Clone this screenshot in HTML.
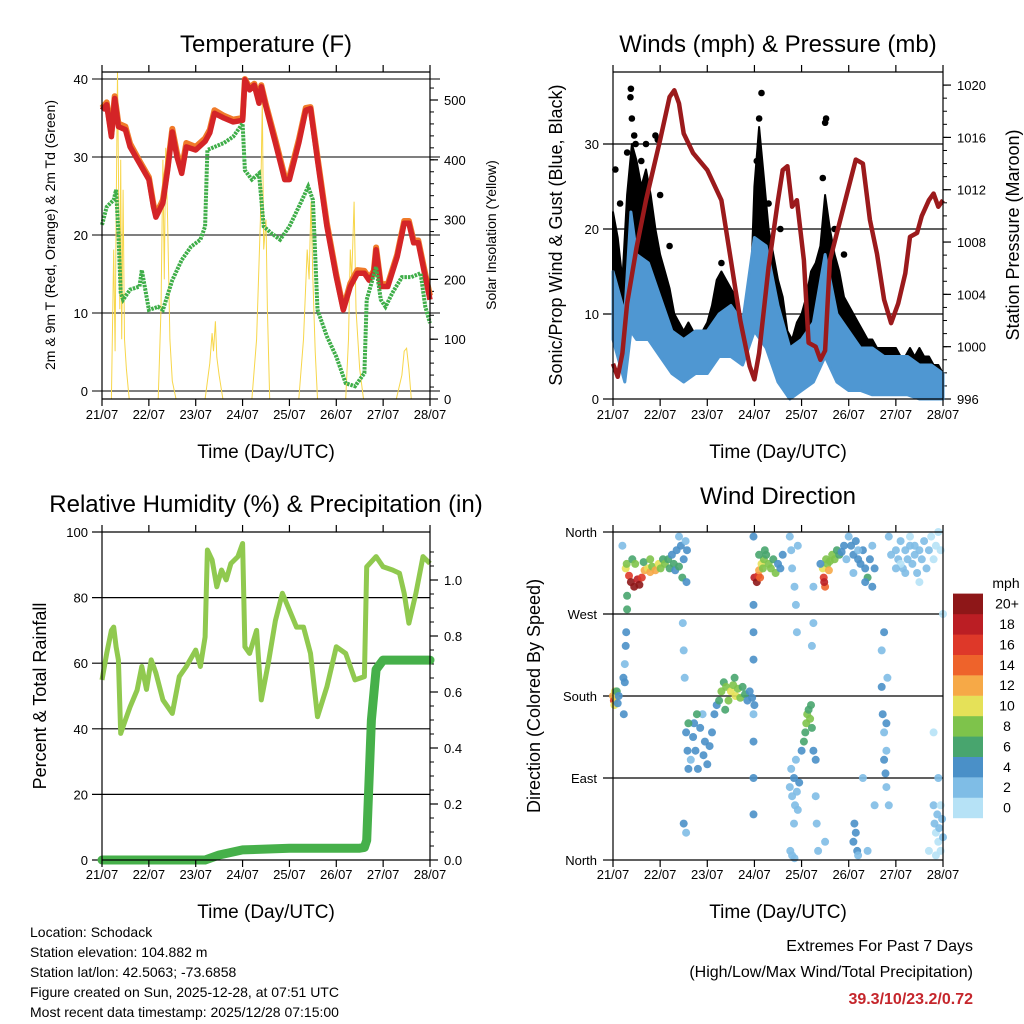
<!DOCTYPE html>
<html><head><meta charset="utf-8"><style>
body{margin:0;background:#fff;}
svg{display:block;font-family:"Liberation Sans",sans-serif;}
</style></head><body>
<svg id="chart" width="1024" height="1024" viewBox="0 0 1024 1024" xmlns="http://www.w3.org/2000/svg"></svg>
<script>
// ---------- DATA ----------
const dayLabels = ["21/07","22/07","23/07","24/07","25/07","26/07","27/07","28/07"];
// Temperature panel
const tempT = [0,0.1,0.2,0.27,0.35,0.5,0.6,0.8,1.0,1.1,1.15,1.3,1.4,1.5,1.6,1.7,1.8,2.0,2.2,2.3,2.4,2.6,2.8,3.0,3.05,3.15,3.25,3.35,3.4,3.5,3.7,3.9,4.0,4.2,4.35,4.45,4.6,4.8,5.0,5.15,5.3,5.45,5.6,5.7,5.8,5.85,5.95,6.1,6.3,6.45,6.55,6.65,6.75,6.9,7.0];
const temp2m = [36.0,36.7,32.6,37.5,33.9,33.5,31.3,29.2,27.1,23.6,22.3,24.1,28.3,33.2,30.0,27.9,31.3,30.9,32.0,33.1,35.6,35.0,34.5,34.7,39.9,38.6,39.2,36.9,39.0,36.4,31.8,27.1,27.1,31.8,36.0,36.2,29.6,21.1,14.6,10.4,13.4,15.1,15.1,14.2,15.1,18.1,13.4,13.4,17.2,21.5,21.5,19.0,19.0,14.6,11.7];
const temp9m = [36.3,37.0,33.0,37.8,34.3,33.9,31.7,29.5,27.4,23.9,22.6,24.5,28.7,33.6,30.5,28.4,31.8,31.3,32.4,33.5,36.0,35.3,34.8,35.0,40.0,38.9,39.4,37.2,39.2,36.7,32.2,27.5,27.5,32.2,36.3,36.4,30.0,21.5,14.9,10.6,13.8,15.5,15.4,14.5,15.4,18.4,13.7,13.7,17.5,21.8,21.8,19.3,19.3,15.0,12.2];
const dewT = [0,0.1,0.25,0.3,0.35,0.4,0.45,0.6,0.8,0.85,1.0,1.2,1.3,1.5,1.7,1.9,2.1,2.2,2.25,2.4,2.6,2.8,3.0,3.05,3.2,3.35,3.45,3.6,3.8,4.0,4.2,4.4,4.5,4.6,4.8,5.0,5.2,5.4,5.6,5.65,5.85,5.95,6.05,6.2,6.4,6.6,6.8,6.9,7.0];
const dew = [21.3,23.6,24.5,25.8,20.3,12.6,11.7,13.0,13.4,15.5,10.4,10.8,10.4,14.2,16.8,18.5,19.4,21.1,30.9,31.3,31.8,32.6,34.3,28.3,27.1,27.9,21.1,20.3,19.4,21.1,23.6,26.2,24.5,10.4,7.0,4.4,1.0,0.6,2.3,11.7,15.9,11.7,10.8,12.6,14.6,14.6,15.1,10.8,8.7];
const solT = [0,0.2,0.25,0.28,0.3,0.33,0.36,0.38,0.4,0.42,0.45,0.48,0.52,0.58,1.2,1.26,1.3,1.33,1.36,1.4,1.45,1.5,1.58,2.2,2.3,2.35,2.38,2.42,2.45,2.5,2.58,3.2,3.3,3.38,3.42,3.45,3.5,3.53,3.58,4.2,4.3,4.38,4.42,4.46,4.5,4.55,4.6,5.2,5.26,5.3,5.33,5.38,5.42,5.5,5.58,6.28,6.4,6.45,6.5,6.55,6.6,7.0];
const solV = [0,0,250,80,300,547,300,150,400,100,350,100,50,0,0,150,400,200,420,300,100,30,0,0,60,110,80,130,70,40,0,0,100,300,500,250,300,150,0,0,100,250,200,330,200,80,0,0,100,250,200,330,150,50,0,0,40,80,85,50,0,0];
const tempTicks = [0,10,20,30,40];
const solTicks = [0,100,200,300,400,500];
// Winds panel
const presT = [0,0.1,0.2,0.3,0.5,0.7,1.0,1.2,1.3,1.4,1.5,1.7,2.0,2.3,2.5,2.7,2.9,3.0,3.1,3.3,3.5,3.6,3.7,3.8,3.9,4.05,4.15,4.3,4.4,4.5,4.6,4.8,5.0,5.15,5.3,5.45,5.6,5.75,5.9,6.05,6.2,6.3,6.45,6.55,6.7,6.8,6.9,7.0];
const pres = [998.7,997.7,999.5,1003.3,1007.6,1011.2,1015.8,1019.1,1019.6,1018.6,1016.3,1014.8,1013.5,1011.2,1006.6,1002.0,998.5,997.5,999.5,1006.1,1011.2,1013.5,1013.8,1010.7,1011.2,1006.6,1000.3,1000.0,999.0,999.7,1006.6,1009.4,1012.2,1014.3,1014.0,1009.7,1007.1,1003.6,1001.8,1003.3,1005.6,1008.4,1008.7,1010.0,1011.2,1011.7,1010.7,1011.2];
const gustT = [0,0.1,0.2,0.3,0.4,0.5,0.6,0.7,0.8,0.9,1.0,1.1,1.2,1.3,1.4,1.5,1.6,1.7,1.8,1.9,2.0,2.1,2.2,2.3,2.4,2.5,2.6,2.7,2.8,2.9,3.0,3.1,3.2,3.3,3.4,3.5,3.6,3.7,3.8,3.9,4.0,4.1,4.2,4.3,4.4,4.5,4.6,4.7,4.8,4.9,5.0,5.1,5.2,5.3,5.4,5.5,5.6,5.7,5.8,5.9,6.0,6.1,6.2,6.3,6.4,6.5,6.6,6.7,6.8,6.9,7.0];
const gustHi = [22,19,14,24,30,28,25,27,24,20,17,15,13,10,9,8,9,8,7,8,9,11,14,15,14,13,12,10,8,9,25,32,26,20,17,14,12,8,7,9,10,12,15,16,18,24,20,17,15,12,11,10,9,8,7,7,6,6,6,6,6,5,5,6,5,6,5,5,4,4,3];
const gustPeakT = [0.37,0.38,0.4,0.45,0.48,0.45,0.9,0.95,1.0,3.05,3.1,3.15,4.45,4.5,4.52,0.05,0.3,0.7,0.15,0.6,1.2,2.3,3.3,3.55,4.7,4.9];
const gustPeakV = [35.5,36.5,33,31,30,27,31,30.5,24,28,33,36,26,32.5,33,27,29,30,23,28,18,16,23,20,20,17];
const windT = [0,0.25,0.38,0.5,0.75,1.0,1.25,1.5,1.75,2.0,2.25,2.5,2.75,3.0,3.25,3.5,3.75,4.0,4.25,4.5,4.75,5.0,5.25,5.5,5.75,6.0,6.25,6.5,6.75,7.0];
const windHi = [15,10,22,17,16,12,8,7,8,8,10,11,9,19,18,11,6,7,9,17,10,8,6,6,5,5,5,4,4,3];
const windLo = [7,2,8,7,7,5,3,2,3,3,5,5,4,8,6,2,0,1,2,5,2,1,1,0.5,0.5,0.5,0.5,0,0,0];
const windTicks = [0,10,20,30];
const presTicks = [996,1000,1004,1008,1012,1016,1020];
// RH / precip panel
const rhT = [0,0.1,0.2,0.25,0.3,0.35,0.4,0.5,0.6,0.75,0.85,0.95,1.05,1.15,1.3,1.5,1.65,1.8,2.0,2.1,2.2,2.25,2.35,2.45,2.55,2.65,2.75,2.9,3.0,3.05,3.15,3.3,3.4,3.55,3.7,3.85,4.0,4.15,4.3,4.45,4.6,4.8,5.0,5.2,5.4,5.6,5.65,5.85,6.0,6.2,6.35,6.45,6.55,6.7,6.85,7.0];
const rh = [54.9,63,70,71,65,61,38.6,42.7,46.7,51.8,59,52,61,57,48.8,44.7,55.9,59,64,59,68,94.5,91.5,83.3,88.4,85.4,90.4,92.5,96.5,65,63,70,48.8,60,73,81.3,76.2,71,71,63,43.7,52.8,65,63,54.9,55.9,89.4,92.5,89.4,88.4,87.4,81.3,72.2,81.3,92.5,90.4];
const rainT = [0,2.2,2.5,3.0,4.0,5.5,5.6,5.65,5.75,5.85,6.0,7.0];
const rain = [0,0,0.018,0.036,0.042,0.042,0.045,0.07,0.5,0.68,0.714,0.714];
const rhTicks = [0,20,40,60,80,100];
const rainTicks = [0,0.2,0.4,0.6,0.8,1.0];
// Wind direction panel
const dirT = [0.27,0.29,0.34,0.38,0.45,0.52,0.56,0.61,0.67,0.74,0.79,0.83,0.9,0.97,1.01,0.41,0.47,0.65,0.79,1.06,
1.1,1.17,1.2,1.25,1.29,1.32,1.35,1.4,1.44,1.47,1.5,1.54,1.57,1.56,0.2,1.4,
0.0,0.02,0.04,0.06,0.03,0.08,0.1,0.12,
0.23,0.25,0.25,0.27,0.28,0.3,0.3,0.22,
1.55,1.58,1.6,1.65,1.7,1.72,1.75,1.8,1.85,1.9,1.92,1.95,2.0,2.05,2.1,2.15,2.2,1.5,1.52,1.5,1.55,1.48,1.6,1.78,
2.25,2.3,2.35,2.4,2.45,2.5,2.55,2.6,2.65,2.7,2.75,2.8,2.85,2.9,2.95,3.0,2.38,2.58,
2.98,2.98,2.98,2.98,2.98,2.98,2.98,2.98,
3.0,3.05,3.08,3.1,3.12,3.15,3.18,3.2,3.25,3.3,3.35,3.4,3.45,3.5,3.55,3.6,3.1,3.22,
3.75,3.78,3.8,3.85,3.88,3.9,3.76,3.8,3.85,3.92,
3.75,3.8,3.84,3.86,3.9,3.92,3.84,3.78,3.88,3.95,
4.0,4.05,4.08,4.1,4.12,4.15,4.18,4.2,4.22,4.25,4.3,4.3,4.32,4.35,4.25,4.22,4.25,
4.45,4.47,4.5,4.48,4.52,4.55,4.6,4.65,4.7,4.75,4.8,4.85,4.4,4.9,4.95,4.58,
5.0,5.05,5.1,5.15,5.2,5.25,5.3,5.35,5.4,5.45,5.5,5.55,5.5,5.35,5.1,5.2,
5.7,5.72,5.75,5.75,5.78,5.8,5.8,5.7,5.75,5.8,5.85,5.82,
5.1,5.12,5.15,5.18,4.5,5.2,5.3,5.4,5.55,
6.0,6.05,6.1,6.15,6.2,6.25,6.3,6.35,6.4,6.45,6.5,6.55,6.6,6.65,6.7,6.75,6.8,6.85,6.9,6.95,6.1,6.3,6.5,6.2,6.4,6.0,5.9,5.85,
6.8,6.82,6.85,6.88,6.9,6.92,6.95,6.98,7.0,6.85,6.95,6.7,6.9,6.8,7.0];
const dirD = [320,325,312,305,300,308,302,310,318,320,316,322,318,325,320,330,325,327,330,330,
325,330,320,335,325,318,340,322,345,310,330,350,340,305,345,355,
180,175,185,178,170,185,172,180,
160,195,215,235,250,275,290,200,
140,120,100,110,135,150,120,100,145,160,115,130,105,125,140,160,170,230,200,40,30,260,150,160,
175,185,195,190,175,185,192,180,188,178,190,182,175,185,178,170,165,200,
355,280,250,220,130,90,50,160,
310,305,312,318,310,325,320,330,335,325,320,330,315,325,320,335,335,340,
355,340,320,300,280,250,10,5,2,345,
80,70,90,60,75,55,40,100,110,85,
120,130,140,150,160,165,155,170,145,120,110,70,40,10,260,235,300,
320,310,300,305,330,325,328,335,330,340,335,338,325,345,330,318,
355,345,335,350,330,325,340,320,310,330,345,320,300,305,315,340,
190,160,140,110,95,120,150,230,250,80,60,200,
20,40,30,10,20,5,90,10,60,
340,330,350,320,340,330,345,325,335,315,340,330,350,320,340,355,330,345,360,340,325,355,305,315,345,320,335,355,
60,40,30,50,20,35,10,45,25,5,60,10,90,140,270];
const dirS = [10,8,16,20,20,18,20,16,12,10,12,8,12,10,8,6,8,6,8,6,
8,6,6,4,6,4,4,6,4,6,4,2,4,4,2,2,
12,16,10,10,10,6,4,4,
4,4,2,4,4,6,6,4,
4,4,4,2,4,4,4,4,4,2,4,4,4,4,4,4,4,2,2,4,2,2,6,6,
6,8,6,8,8,10,8,10,8,8,6,6,4,4,4,4,6,6,
4,4,4,4,4,4,4,2,
18,20,16,12,14,10,8,8,6,8,8,6,8,4,4,4,6,6,
2,2,2,2,2,2,2,2,2,2,
2,2,4,2,2,2,2,2,2,4,
4,6,6,8,8,6,8,6,6,4,4,2,2,2,2,2,2,
10,16,14,18,8,8,8,8,8,6,6,4,4,4,2,12,
2,4,4,4,4,4,4,4,6,4,2,4,4,4,2,2,
4,4,2,4,4,2,4,2,4,2,2,2,
4,4,4,4,2,2,2,2,2,
2,2,2,2,2,2,2,2,2,2,2,2,2,2,2,0,0,0,0,0,0,0,0,2,2,2,2,2,
2,2,0,2,0,2,0,2,2,0,0,0,2,0,0];
const dirTicks = [360,270,180,90,0];
const dirTickLabels = ["North","West","South","East","North"];
const cbLabels = ["0","2","4","6","8","10","12","14","16","18","20+"];
const cbColors = ["#b6e2f6","#7fbde6","#4a90c8","#48a56e","#7ec34b","#e5e158","#f6a947","#ee632b","#de3829","#bb1e24","#8e1718"];

// ---------- HELPERS ----------
const NS="http://www.w3.org/2000/svg";
const svg=document.getElementById('chart');
function mk(tag,attrs,parent){const e=document.createElementNS(NS,tag);for(const k in attrs)e.setAttribute(k,attrs[k]);(parent||svg).appendChild(e);return e;}
function txt(s,x,y,size,anchor,parent,extra){const e=mk('text',Object.assign({x:x,y:y,'font-size':size,'text-anchor':anchor||'middle',fill:'#000'},extra||{}),parent);e.textContent=s;return e;}
function xMap(x0,x1){return t=>x0+t/7*(x1-x0);}
function pathFrom(ts,vs,fx,fy){return ts.map((t,i)=>(i?'L':'M')+fx(t).toFixed(1)+' '+fy(vs[i]).toFixed(1)).join(' ');}

function frame(g,x0,x1,y0,y1,labelY){
  mk('line',{x1:x0,y1:y0,x2:x1,y2:y0,stroke:'#000','stroke-width':1.2},g);
  mk('line',{x1:x0,y1:y1,x2:x1,y2:y1,stroke:'#000','stroke-width':1.2},g);
  mk('line',{x1:x0,y1:y0,x2:x0,y2:y1,stroke:'#000','stroke-width':1.2},g);
  mk('line',{x1:x1,y1:y0,x2:x1,y2:y1,stroke:'#000','stroke-width':1.2},g);
  const fx=xMap(x0,x1);
  dayLabels.forEach((d,i)=>{
    const x=fx(i);
    const tk=mk('line',{x1:x,y1:y1,x2:x,y2:y1+7,stroke:'#000','stroke-width':1.2},g);
    
    
    mk('line',{x1:x,y1:y0,x2:x,y2:y0-7,stroke:'#000','stroke-width':1.2},g);
    const l=txt(d,x,labelY,13,'middle',g);
    
    
  });
}
function group(name){const g=mk('g',{});return g;}

// ---------- PANEL 1: TEMPERATURE ----------
(function(){
  const g=group('temperature-panel');
  const x0=102,x1=430,y0=72,y1=399;
  const fx=xMap(x0,x1), fy=v=>391-v*7.8, fs=v=>399-v*0.598;
  tempTicks.forEach(v=>{
    const gl=mk('line',{x1:x0-10,y1:fy(v),x2:x1+10,y2:fy(v),stroke:'#555','stroke-width':1.5},g);
    
    
    txt(String(v),x0-14,fy(v)+5,13,'end',g);
  });
  solTicks.forEach(v=>{
    mk('line',{x1:x1,y1:fs(v),x2:x1+8,y2:fs(v),stroke:'#000','stroke-width':1.2},g);
    txt(String(v),x1+14,fs(v)+5,13,'start',g);
  });
  for(let v=20;v<540;v+=20){mk('line',{x1:x1,y1:fs(v),x2:x1+4,y2:fs(v),stroke:'#000','stroke-width':1},g);}
  const sol=mk('path',{d:pathFrom(solT,solV,fx,fs),fill:'none',stroke:'#f7d64a','stroke-width':1},g);
  
  
  const o=mk('path',{d:pathFrom(tempT,temp9m,fx,fy),fill:'none',stroke:'#f07b2a','stroke-width':6,'stroke-linejoin':'round'},g);
  
  
  const r=mk('path',{d:pathFrom(tempT,temp2m,fx,fy),fill:'none',stroke:'#d42427','stroke-width':5.5,'stroke-linejoin':'round'},g);
  
  
  const d=mk('path',{d:pathFrom(dewT,dew,fx,fy),fill:'none',stroke:'#3fae49','stroke-width':4,'stroke-dasharray':'2.5,1'},g);
  
  
  frame(g,x0,x1,y0,y1,419);
  const t=txt('Temperature (F)',266,52,24,'middle',g);  
  const xl=txt('Time (Day/UTC)',266,458,19,'middle',g);  
  const yl=txt('2m & 9m T (Red, Orange) & 2m Td (Green)',0,0,14,'middle',g,{transform:'translate(55,235) rotate(-90)'});  
  const yr=txt('Solar Insolation (Yellow)',0,0,14,'middle',g,{transform:'translate(496,235) rotate(-90)'});  
})();

// ---------- PANEL 2: WINDS ----------
(function(){
  const g=group('winds-panel');
  const x0=613,x1=943,y0=72,y1=399;
  const fx=xMap(x0,x1), fy=v=>399-v*8.5, fp=p=>399-(p-996)*13.08;
  windTicks.forEach(v=>{
    if(v>0){const gl=mk('line',{x1:x0-10,y1:fy(v),x2:x1,y2:fy(v),stroke:'#000','stroke-width':1.2},g);
    
    }
    else mk('line',{x1:x0-10,y1:fy(v),x2:x0,y2:fy(v),stroke:'#000','stroke-width':1.2},g);
    txt(String(v),x0-14,fy(v)+5,13,'end',g);
  });
  presTicks.forEach(v=>{
    mk('line',{x1:x1,y1:fp(v),x2:x1+8,y2:fp(v),stroke:'#000','stroke-width':1.2},g);
    txt(String(v),x1+14,fp(v)+5,13,'start',g);
  });
  for(let v=997;v<1021;v++){mk('line',{x1:x1,y1:fp(v),x2:x1+4,y2:fp(v),stroke:'#000','stroke-width':1},g);}
  let dd='M'+gustT.map((t,i)=>fx(t).toFixed(1)+' '+fy(gustHi[i]).toFixed(1)).join(' L')+' L'+windT.slice().reverse().map((t,j)=>{const i=windT.length-1-j;return fx(t).toFixed(1)+' '+fy(windLo[i]+1.5).toFixed(1);}).join(' L')+' Z';
  const ge=mk('path',{d:dd,fill:'#000',stroke:'#000','stroke-width':2,'stroke-linejoin':'round'},g);
  
  
  gustPeakT.forEach((t,i)=>{
    const c=mk('circle',{cx:fx(t),cy:fy(gustPeakV[i]),r:3.3,fill:'#000'},g);
    
    
  });
  let wd='M'+windT.map((t,i)=>fx(t).toFixed(1)+' '+fy(windHi[i]).toFixed(1)).join(' L')+' L'+windT.slice().reverse().map((t,j)=>{const i=windT.length-1-j;return fx(t).toFixed(1)+' '+fy(windLo[i]).toFixed(1);}).join(' L')+' Z';
  const wb=mk('path',{d:wd,fill:'#4f97d2',stroke:'#4f97d2','stroke-width':3,'stroke-linejoin':'round'},g);
  
  
  const pl=mk('path',{d:pathFrom(presT,pres,fx,fp),fill:'none',stroke:'#9b1a1c','stroke-width':4.5,'stroke-linejoin':'round'},g);
  
  
  frame(g,x0,x1,y0,y1,419);
  const t=txt('Winds (mph) & Pressure (mb)',778,52,24,'middle',g);  
  const xl=txt('Time (Day/UTC)',778,458,19,'middle',g);  
  const yl=txt('Sonic/Prop Wind & Gust (Blue, Black)',0,0,18,'middle',g,{transform:'translate(562,235) rotate(-90)'});  
  const yr=txt('Station Pressure (Maroon)',0,0,18,'middle',g,{transform:'translate(1019,235) rotate(-90)'});  
})();

// ---------- PANEL 3: RH & PRECIP ----------
(function(){
  const g=group('humidity-panel');
  const x0=102,x1=430,y0=532,y1=860;
  const fx=xMap(x0,x1), fy=v=>860-v*3.28, fr=v=>860-v*280;
  rhTicks.forEach(v=>{
    const inner=(v>0&&v<100);
    const gl=mk('line',{x1:x0-10,y1:fy(v),x2:inner?x1:x0,y2:fy(v),stroke:'#000','stroke-width':1.2},g);
    
    
    txt(String(v),x0-14,fy(v)+5,13,'end',g);
  });
  rainTicks.forEach(v=>{
    mk('line',{x1:x1,y1:fr(v),x2:x1+8,y2:fr(v),stroke:'#000','stroke-width':1.2},g);
    txt(v.toFixed(1),x1+14,fr(v)+5,13,'start',g);
  });
  for(let v=0.05;v<1.15;v+=0.05){mk('line',{x1:x1,y1:fr(v),x2:x1+4,y2:fr(v),stroke:'#000','stroke-width':1},g);}
  const rl=mk('path',{d:pathFrom(rhT,rh,fx,fy),fill:'none',stroke:'#90c94f','stroke-width':5,'stroke-linejoin':'round'},g);
  
  
  const pl=mk('path',{d:pathFrom(rainT,rain,fx,fr),fill:'none',stroke:'#46b04a','stroke-width':9,'stroke-linejoin':'round','stroke-linecap':'round'},g);
  
  
  frame(g,x0,x1,y0,y1,879);
  const t=txt('Relative Humidity (%) & Precipitation (in)',266,512,24,'middle',g);  
  const xl=txt('Time (Day/UTC)',266,918,19,'middle',g);  
  const yl=txt('Percent & Total Rainfall',0,0,18,'middle',g,{transform:'translate(46,696) rotate(-90)'});  
})();

// ---------- PANEL 4: WIND DIRECTION ----------
(function(){
  const g=group('wind-direction-panel');
  const x0=613,x1=943,y0=532,y1=860;
  const fx=xMap(x0,x1), fy=d=>860-d/360*328;
  dirTicks.forEach((v,i)=>{
    const inner=(v>0&&v<360);
    const gl=mk('line',{x1:x0-10,y1:fy(v),x2:inner?x1:x0,y2:fy(v),stroke:'#000','stroke-width':1.2},g);
    
    
    txt(dirTickLabels[i],x0-16,fy(v)+5,13,'end',g);
  });
  dirT.forEach((t,i)=>{
    const b=Math.min(10,Math.floor(dirS[i]/2));
    const c=mk('circle',{cx:fx(t).toFixed(1),cy:fy(dirD[i]).toFixed(1),r:4,fill:cbColors[b],'fill-opacity':0.9},g);
    
    
  });
  frame(g,x0,x1,y0,y1,879);
  const cb=group('speed-colorbar');
  txt('mph',1006,588,14,'middle',cb);
  cbColors.forEach((col,i)=>{
    const y=818-(i+1)*20.4;
    const r=mk('rect',{x:953,y:y,width:30,height:20.6,fill:col},cb);
    
    
    txt(cbLabels[i],1007,y+15,14,'middle',cb);
  });
  const t=txt('Wind Direction',778,504,24,'middle',g);  
  const xl=txt('Time (Day/UTC)',778,918,19,'middle',g);  
  const yl=txt('Direction (Colored By Speed)',0,0,18,'middle',g,{transform:'translate(540,696) rotate(-90)'});  
})();

// ---------- FOOTER ----------
(function(){
  const g=group('station-info');
  const lines=["Location: Schodack","Station elevation: 104.882 m","Station lat/lon: 42.5063; -73.6858","Figure created on Sun, 2025-12-28, at 07:51 UTC","Most recent data timestamp: 2025/12/28 07:15:00"];
  lines.forEach((s,i)=>{const e=txt(s,30,937+i*20,14,'start',g);});
  const h=group('extremes-summary');
  txt('Extremes For Past 7 Days',973,951,16,'end',h);
  txt('(High/Low/Max Wind/Total Precipitation)',973,977,16,'end',h);
  const v=txt('39.3/10/23.2/0.72',973,1004,16,'end',h,{'font-weight':'bold',fill:'#c5262c'});
  
  
})();
</script>
</body></html>
